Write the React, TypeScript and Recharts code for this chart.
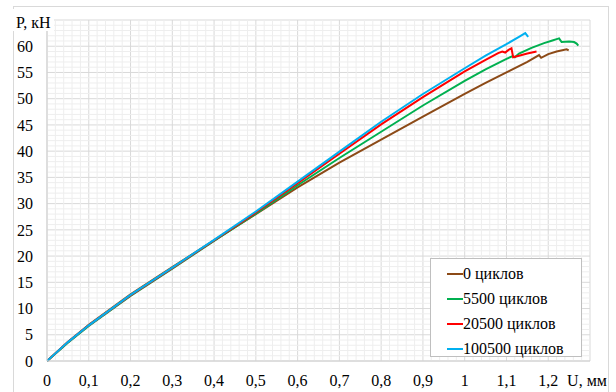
import { LineChart, Line, XAxis, YAxis, CartesianGrid, ReferenceLine } from "recharts";

document.body.style.margin = "0";

const uTicks = [0, 0.1, 0.2, 0.3, 0.4, 0.5, 0.6, 0.7, 0.8, 0.9, 1, 1.1, 1.2, 1.3];
const pTicks = [0, 5, 10, 15, 20, 25, 30, 35, 40, 45, 50, 55, 60, 65];

// displacement U (mm) / load P (kN) for each number of cycles
const u0 = [0, 0.05, 0.1, 0.2, 0.3, 0.4, 0.5, 0.6, 0.7, 0.8, 0.9, 1.0, 1.05, 1.1, 1.15, 1.178, 1.183, 1.2, 1.22, 1.244, 1.249];
const p0 = [0, 3.6, 6.9, 12.7, 17.9, 23.0, 28.0, 33.1, 37.8, 42.2, 46.6, 50.9, 53.0, 55.0, 57.0, 58.3, 57.8, 58.5, 59.0, 59.4, 59.2];

const u5500 = [0, 0.05, 0.1, 0.2, 0.3, 0.4, 0.5, 0.6, 0.7, 0.8, 0.9, 1.0, 1.05, 1.1, 1.115, 1.12, 1.13, 1.16, 1.19, 1.21, 1.222, 1.226, 1.232, 1.25, 1.262, 1.268, 1.272];
const p5500 = [0, 3.5, 6.7, 12.4, 17.6, 22.9, 28.1, 33.5, 38.7, 43.7, 48.7, 53.4, 55.6, 57.6, 58.1, 57.9, 58.6, 59.7, 60.6, 61.1, 61.4, 61.5, 60.8, 60.9, 60.8, 60.5, 60.1];

const u20500 = [0, 0.05, 0.1, 0.2, 0.3, 0.4, 0.5, 0.6, 0.7, 0.8, 0.9, 1.0, 1.05, 1.08, 1.09, 1.097, 1.105, 1.112, 1.116, 1.13, 1.15, 1.172];
const p20500 = [0, 3.6, 6.8, 12.5, 17.7, 23.0, 28.3, 33.9, 39.5, 45.1, 50.3, 55.2, 57.4, 58.7, 59.0, 58.8, 59.3, 59.6, 57.9, 58.2, 58.6, 59.0];

const u100500 = [0, 0.05, 0.1, 0.2, 0.3, 0.4, 0.5, 0.6, 0.7, 0.8, 0.9, 1.0, 1.05, 1.1, 1.13, 1.145, 1.152];
const p100500 = [0, 3.6, 6.8, 12.6, 17.8, 23.1, 28.5, 34.2, 39.9, 45.6, 50.9, 55.8, 58.2, 60.4, 61.8, 62.5, 61.8];

const series = [
  { name: "0", color: "#8c4a17", u: u0, p: p0 },
  { name: "5500", color: "#00b050", u: u5500, p: p5500 },
  { name: "20500", color: "#ff0000", u: u20500, p: p20500 },
  { name: "100500", color: "#00b0f0", u: u100500, p: p100500 },
];

// fine millimetre-paper grid between the major lines
const minorU: number[] = [];
for (let i = 1; i < 65; i++) if (i % 5 !== 0) minorU.push(+(i * 0.02).toFixed(2));
const minorP: number[] = [];
for (let i = 1; i < 65; i++) if (i % 5 !== 0) minorP.push(i);

const FONT = "Liberation Serif, Tinos, Times New Roman, DejaVu Serif, serif";

const fmtU = (v: number) => (v === 1.3 ? "U, мм" : String(v).replace(".", ","));

const YTick = (props: any) => {
  const { x, y, payload } = props;
  if (payload.value === 65) {
    return (
      <g>
        <rect x={13} y={y - 11} width={41} height={22} fill="#fff" />
        <text x={16} y={y + 2} dy="0.355em" fontSize={16} style={{ fontFamily: FONT }} fill="#000">
          P, кН
        </text>
      </g>
    );
  }
  return (
    <text x={x} y={y} dy="0.355em" textAnchor="end" fontSize={16} style={{ fontFamily: FONT }} fill="#000">
      {payload.value}
    </text>
  );
};

const XTick = (props: any) => {
  const { x, y, payload } = props;
  const last = payload.value === 1.3;
  return (
    <text x={last ? x - 3 : x} y={y} dy="0.71em" textAnchor="middle" fontSize={16} style={{ fontFamily: FONT }} fill="#000">
      {fmtU(payload.value)}
    </text>
  );
};

export default function App() {
  return (
    <div style={{ position: "relative", width: 616, height: 392, overflow: "hidden", background: "#fff", fontFamily: FONT }}>
      <div
        style={{
          position: "absolute",
          left: 13,
          top: 6,
          width: 596,
          height: 420,
          border: "1px solid #d9d9d9",
          boxSizing: "border-box",
        }}
      />
      <LineChart
        width={616}
        height={392}
        margin={{ top: 20, right: 26, bottom: 6, left: 7 }}
        style={{ position: "absolute", left: 0, top: 0 }}
      >
        {minorU.map((v) => (
          <ReferenceLine key={"u" + v} x={v} stroke="#eeeeee" strokeWidth={1} />
        ))}
        {minorP.map((v) => (
          <ReferenceLine key={"p" + v} y={v} stroke="#eeeeee" strokeWidth={1} />
        ))}
        <CartesianGrid stroke="#d9d9d9" />
        <XAxis
          type="number"
          dataKey="u"
          domain={[0, 1.3]}
          ticks={uTicks}
          allowDataOverflow
          interval={0}
          height={25}
          tickLine={false}
          tickMargin={8}
          axisLine={{ stroke: "#d0d0d0" }}
          tick={<XTick />}
        />
        <YAxis
          type="number"
          dataKey="p"
          domain={[0, 65]}
          ticks={pTicks}
          interval={0}
          width={40}
          tickLine={false}
          tickMargin={8}
          axisLine={{ stroke: "#d0d0d0" }}
          tick={<YTick />}
        />
        {series.map((s) => (
          <Line
            key={s.name}
            data={s.u.map((u, i) => ({ u, p: s.p[i] }))}
            dataKey="p"
            type="linear"
            stroke={s.color}
            strokeWidth={2}
            dot={false}
            isAnimationActive={false}
          />
        ))}
      </LineChart>
      <div
        style={{
          position: "absolute",
          left: 430,
          top: 258,
          width: 152,
          height: 99,
          border: "1px solid #bfbfbf",
          boxSizing: "border-box",
          background: "#fff",
          fontSize: 16,
          color: "#000",
          paddingTop: 2,
        }}
      >
        {series.map((s) => (
          <div key={s.name} style={{ display: "flex", alignItems: "center", height: 25, paddingLeft: 16 }}>
            <span style={{ display: "inline-block", width: 16, height: 2, background: s.color }} />
            <span>{s.name} циклов</span>
          </div>
        ))}
      </div>
    </div>
  );
}
